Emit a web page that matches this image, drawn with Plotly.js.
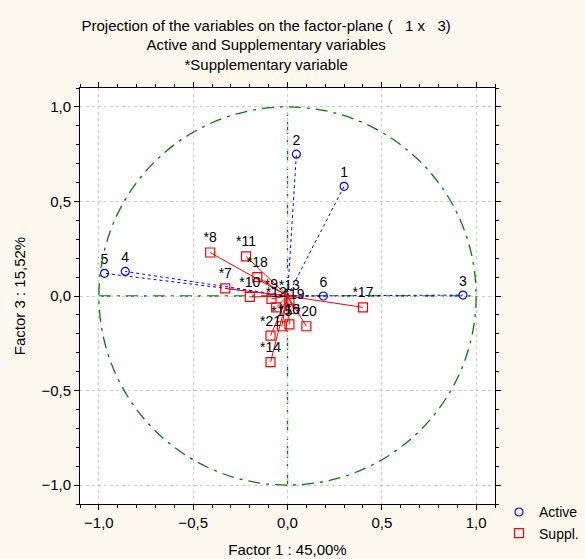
<!DOCTYPE html>
<html>
<head>
<meta charset="utf-8">
<script src="https://cdn.plot.ly/plotly-3.0.1.min.js"></script>
<style>html,body{margin:0;padding:0;background:#fdf9ee;}#chart{width:585px;height:559px;}</style>
</head>
<body>
<div id="chart"></div>
<script>
// Active variables (Factor 1, Factor 3)
const activeLabels = ["1", "2", "3", "4", "5", "6"];
const activeF1 = [0.30, 0.047, 0.93, -0.86, -0.97, 0.19];
const activeF3 = [0.58, 0.75, 0.005, 0.13, 0.12, 0.0];

// Supplementary variables
const supplLabels = ["*7", "*8", "*9", "*10", "*11", "*12", "*13", "*14", "*15", "*16", "*17", "*18", "*19", "*20", "*21"];
const supplF1 = [-0.33, -0.41, -0.085, -0.20, -0.22, -0.06, 0.01, -0.09, -0.03, 0.01, 0.40, -0.16, 0.035, 0.10, -0.09];
const supplF3 = [0.04, 0.23, -0.015, -0.005, 0.21, -0.06, -0.02, -0.35, -0.16, -0.15, -0.06, 0.10, -0.07, -0.16, -0.21];

function rays(xs, ys) {
  const x = [], y = [];
  xs.forEach((v, i) => { x.push(0, v, null); y.push(0, ys[i], null); });
  return {x, y};
}
const aR = rays(activeF1, activeF3);
const sR = rays(supplF1, supplF3);

const font = {family: "Liberation Sans, Arial, sans-serif", color: "#000"};
const green = "#008000";

const traces = [
  {x: aR.x, y: aR.y, mode: "lines", line: {color: "#0000ff", width: 1, dash: "dot"}, showlegend: false, hoverinfo: "skip"},
  {x: sR.x, y: sR.y, mode: "lines", line: {color: "#ff0000", width: 1}, showlegend: false, hoverinfo: "skip"},
  {x: activeF1, y: activeF3, text: activeLabels, mode: "markers+text", name: "Active",
   textposition: "top center", textfont: Object.assign({size: 14}, font),
   marker: {symbol: "circle-open", size: 8, color: "#0000ff", line: {width: 1.2}}},
  {x: supplF1, y: supplF3, text: supplLabels, mode: "markers+text", name: "Suppl.",
   textposition: "top center", textfont: Object.assign({size: 14}, font),
   marker: {symbol: "square-open", size: 9, color: "#ff0000", line: {width: 1.2}}}
];

const axisCommon = {
  range: [-1.1, 1.1], dtick: 0.5, tick0: 0, tickformat: ".1f",
  showgrid: true, gridcolor: "#cccccc", griddash: "dot", gridwidth: 1,
  zeroline: false, showline: true, linecolor: "#000", linewidth: 1, mirror: "ticks",
  ticks: "outside", ticklen: 5, tickcolor: "#000",
  minor: {dtick: 0.1, ticks: "outside", ticklen: 3, tickcolor: "#000", showgrid: false},
  tickfont: Object.assign({size: 15}, font)
};

const layout = {
  width: 585, height: 559,
  paper_bgcolor: "#fdf9ee", plot_bgcolor: "#ffffff",
  separators: ", ",
  margin: {l: 80, r: 90, t: 88, b: 55},
  title: {text: "Projection of the variables on the factor-plane (   1 x   3)<br>Active and Supplementary variables<br>*Supplementary variable",
          font: Object.assign({size: 15}, font), x: 0.455, xanchor: "center", y: 0.945, yanchor: "top"},
  xaxis: Object.assign({}, axisCommon, {title: {text: "Factor 1 : 45,00%", font: Object.assign({size: 15}, font), standoff: 14}}),
  yaxis: Object.assign({}, axisCommon, {title: {text: "Factor 3 : 15,52%", font: Object.assign({size: 15}, font), standoff: 12}}),
  showlegend: true,
  legend: {xref: "container", yref: "container", x: 0.853, xanchor: "left", y: 0.112, yanchor: "top",
           bgcolor: "rgba(0,0,0,0)", font: Object.assign({size: 14}, font), tracegroupgap: 0},
  shapes: [
    {type: "circle", xref: "x", yref: "y", x0: -1, x1: 1, y0: -1, y1: 1, line: {color: green, width: 1.3, dash: "12px,6px,3px,6px"}},
    {type: "line", xref: "x", yref: "y", x0: -1, x1: 1, y0: 0, y1: 0, line: {color: green, width: 1.3, dash: "12px,6px,3px,6px"}, layer: "below"},
    {type: "line", xref: "x", yref: "y", x0: 0, x1: 0, y0: -1, y1: 1, line: {color: green, width: 1.3, dash: "12px,6px,3px,6px"}, layer: "below"}
  ]
};

Plotly.newPlot("chart", traces, layout, {displayModeBar: false, staticPlot: true});
</script>
</body>
</html>
